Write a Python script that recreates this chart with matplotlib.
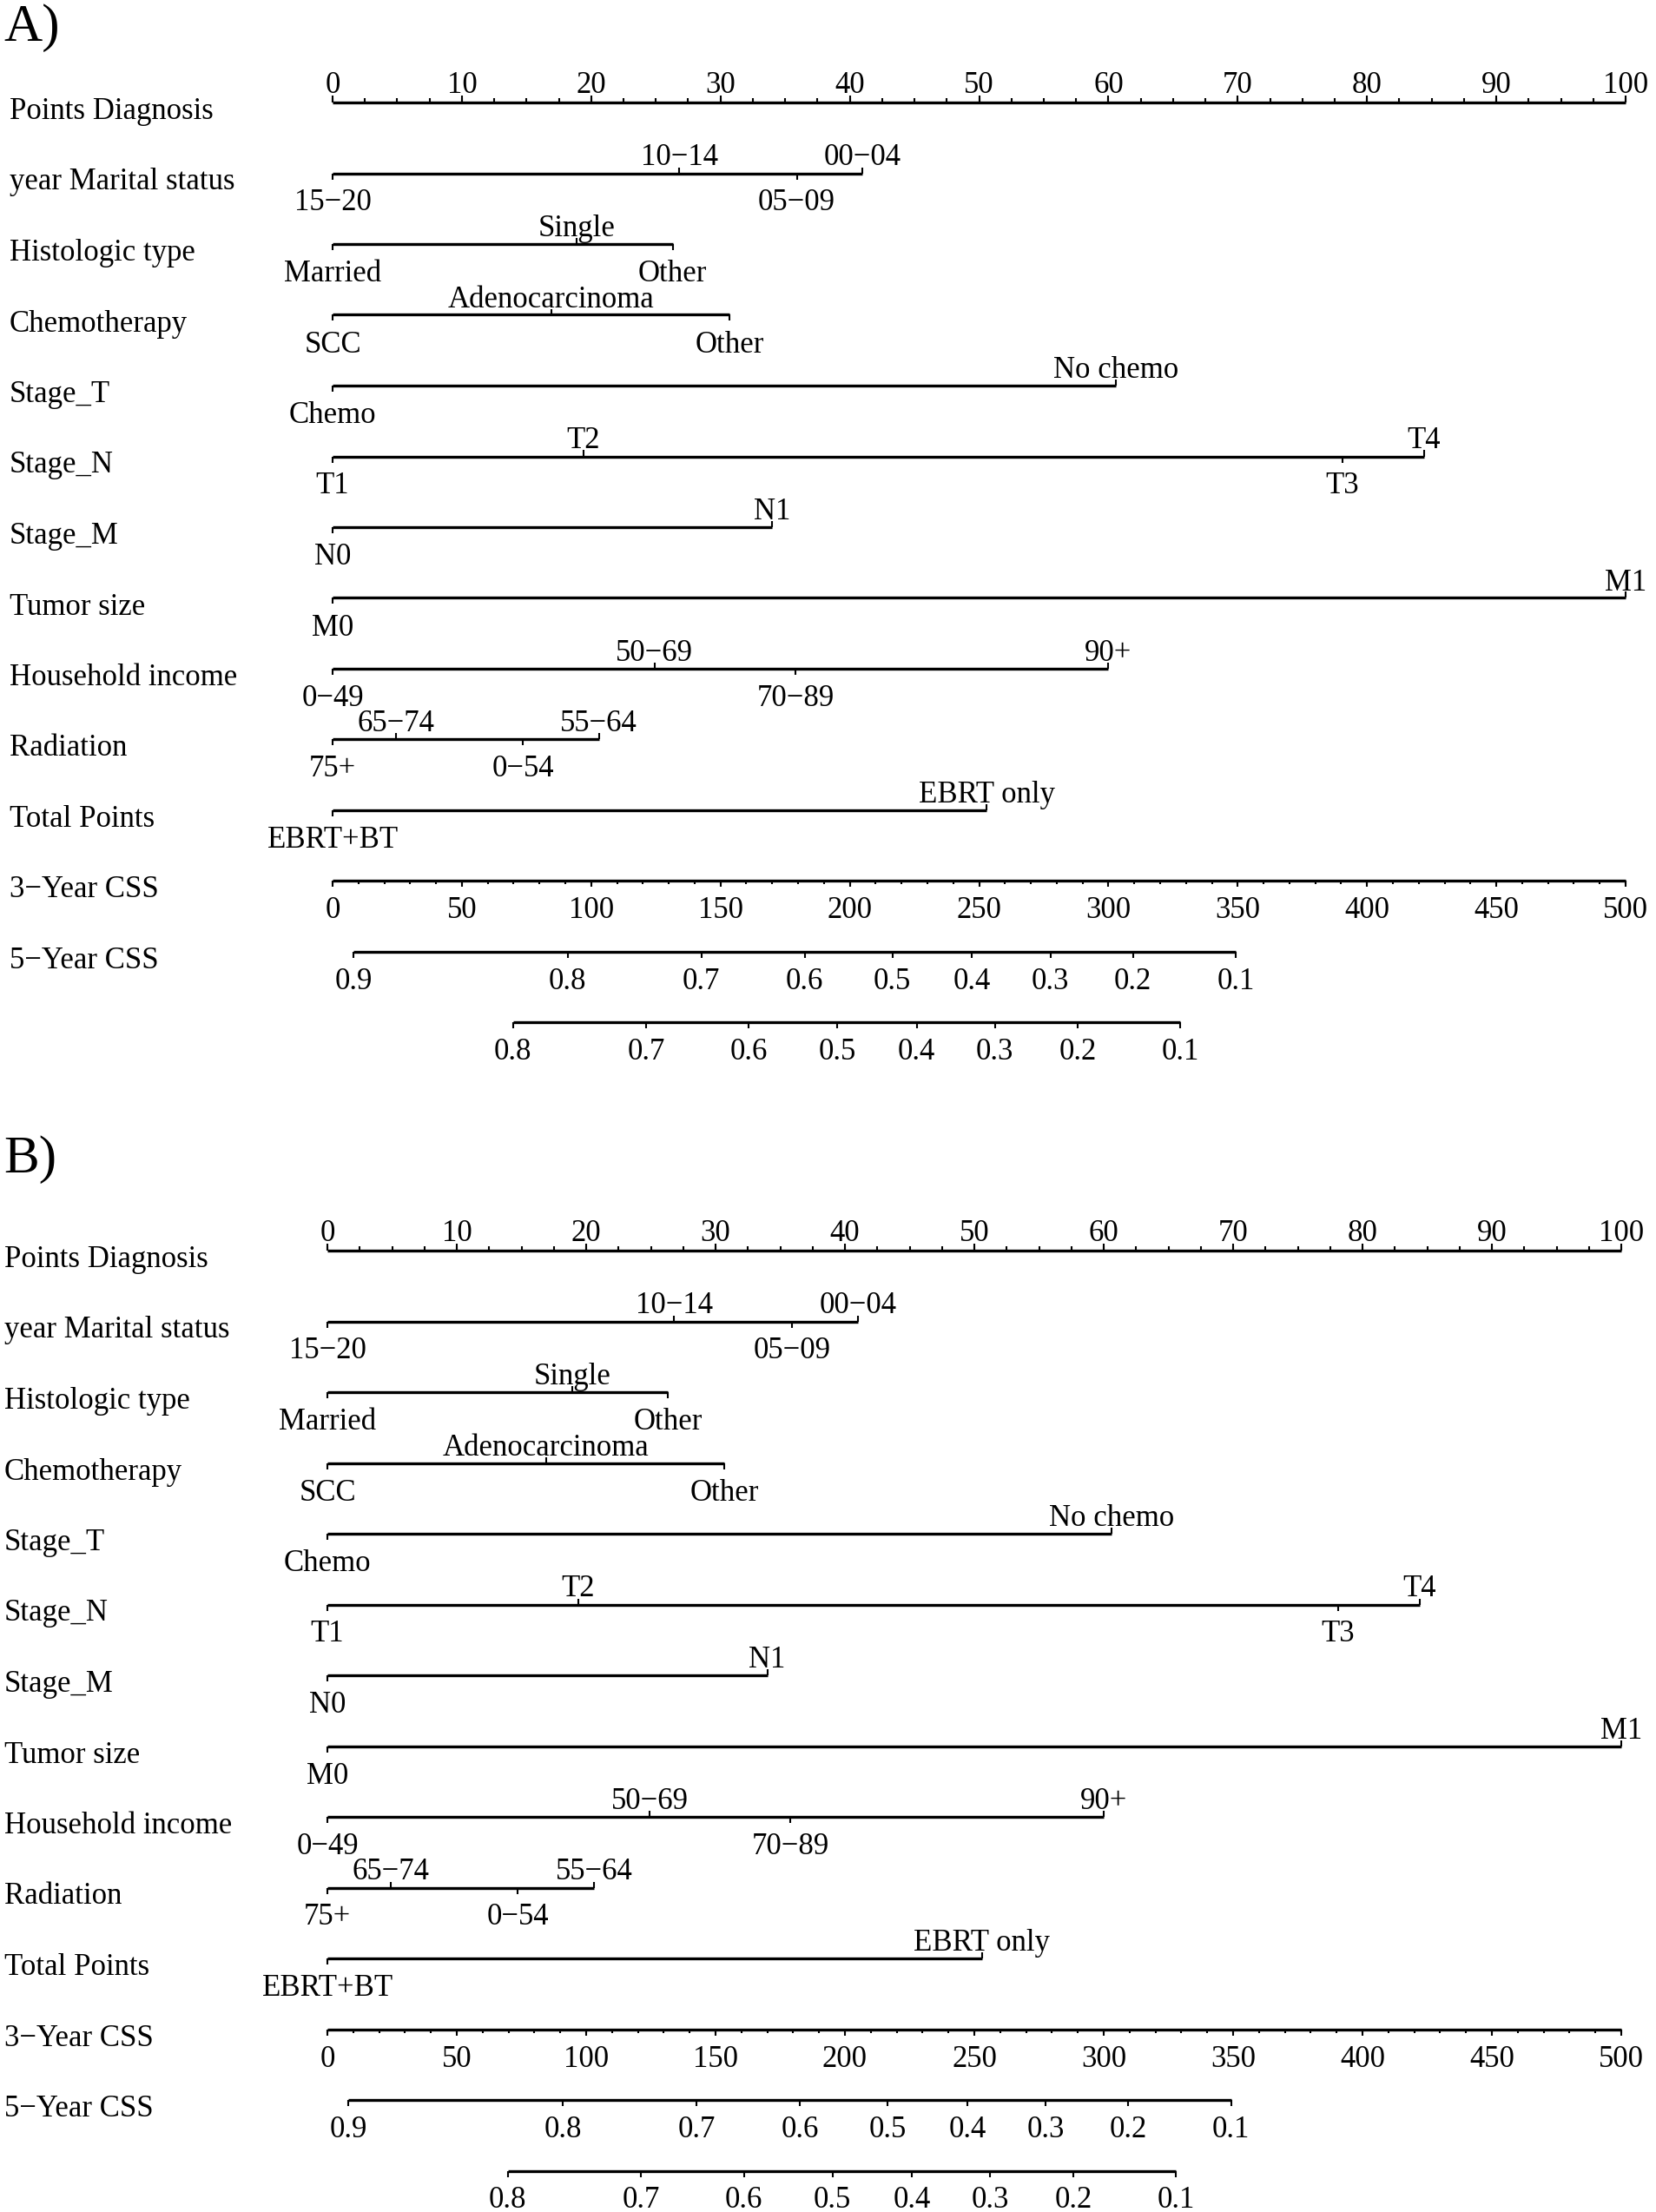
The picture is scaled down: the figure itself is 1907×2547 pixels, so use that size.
import numpy as np
import matplotlib
matplotlib.use("Agg")
from matplotlib import pyplot as plt

plt.rcParams['font.family'] = ['Liberation Serif', 'DejaVu Serif']

# --- data -------------------------------------------------------------
row_labels = ["Points Diagnosis", "year Marital status", "Histologic type",
              "Chemotherapy", "Stage_T", "Stage_N", "Stage_M", "Tumor size",
              "Household income", "Radiation", "Total Points",
              "3\u2212Year CSS", "5\u2212Year CSS"]

year_levels = ["15\u221220", "10\u221214", "05\u221209", "00\u221204"]
year_pts = [0, 26.8, 35.9, 41.0]
marital_levels = ["Married", "Single", "Other"]
marital_pts = [0, 18.9, 26.3]
histo_levels = ["SCC", "Adenocarcinoma", "Other"]
histo_pts = [0, 16.9, 30.7]
chemo_levels = ["Chemo", "No chemo"]
chemo_pts = [0, 60.6]
stage_t_levels = ["T1", "T2", "T3", "T4"]
stage_t_pts = [0, 19.4, 78.1, 84.4]
stage_n_levels = ["N0", "N1"]
stage_n_pts = [0, 34.0]
stage_m_levels = ["M0", "M1"]
stage_m_pts = [0, 100]
income_levels = ["0\u221249", "50\u221269", "70\u221289", "90+"]
income_pts = [0, 24.9, 35.8, 60.0]
age_levels = ["75+", "65\u221274", "0\u221254", "55\u221264"]
age_pts = [0, 4.9, 14.7, 20.6]
radiation_levels = ["EBRT+BT", "EBRT only"]
radiation_pts = [0, 50.6]

points_ticks = np.arange(0, 101, 10)
total_ticks = np.arange(0, 501, 50)

css3_labels = ["0.9", "0.8", "0.7", "0.6", "0.5", "0.4", "0.3", "0.2", "0.1"]
css3_total = [8.1, 90.9, 142.6, 182.6, 216.5, 247.3, 277.6, 309.5, 349.2]
css5_labels = ["0.8", "0.7", "0.6", "0.5", "0.4", "0.3", "0.2", "0.1"]
css5_total = [69.7, 121.2, 161.0, 195.2, 225.9, 256.1, 288.2, 327.8]

categories = [
    (year_levels, year_pts),
    (marital_levels, marital_pts),
    (histo_levels, histo_pts),
    (chemo_levels, chemo_pts),
    (stage_t_levels, stage_t_pts),
    (stage_n_levels, stage_n_pts),
    (stage_m_levels, stage_m_pts),
    (income_levels, income_pts),
    (age_levels, age_pts),
    (radiation_levels, radiation_pts),
]

# --- figure -----------------------------------------------------------
W, H, DPI = 1907, 2547, 100
FS = 25
LW = 2.4
TLW = 1.5
fig = plt.figure(figsize=(W / DPI, H / DPI), dpi=DPI, facecolor='white')


def draw_panel(letter, x0, x100, ytop, dy, label_x, letter_y):
    ax = fig.add_axes([0, 0, 1, 1])
    ax.patch.set_alpha(0)
    s = (x100 - x0) / 100.0
    ax.set_xlim(-x0 / s, (W - x0) / s)
    ax.set_ylim((H - ytop) / dy, -ytop / dy)
    ax.axis('off')

    def r(px):  # pixel offset -> row units
        return px / dy

    def c(px):  # pixel x -> points units
        return (px - x0) / s

    ax.text(c(4), r(letter_y - ytop), letter, fontsize=44, ha='left', va='baseline')

    for i, lab in enumerate(row_labels):
        ax.text(c(label_x), i + r(19), lab, fontsize=FS, ha='left', va='baseline')

    # points axis
    ax.hlines(0, 0, 100, color='black', lw=LW)
    minor = np.arange(0, 100.1, 2.5)
    ax.vlines(minor, 0, -r(5), color='black', lw=TLW)
    ax.vlines(points_ticks, 0, -r(8), color='black', lw=TLW)
    for t in points_ticks:
        ax.text(t, -r(11), str(t), fontsize=FS, ha='center', va='baseline')

    # categorical rows
    for j, (levels, pts) in enumerate(categories):
        row = j + 1
        ax.hlines(row, min(pts), max(pts), color='black', lw=LW)
        for k, (lev, p) in enumerate(zip(levels, pts)):
            if k % 2 == 0:
                ax.vlines(p, row, row + r(7), color='black', lw=TLW)
                ax.text(p, row + r(43), lev, fontsize=FS, ha='center', va='baseline')
            else:
                ax.vlines(p, row, row - r(7), color='black', lw=TLW)
                ax.text(p, row - r(9), lev, fontsize=FS, ha='center', va='baseline')

    # total points axis
    row = 11
    ax.hlines(row, 0, 100, color='black', lw=LW)
    ax.vlines(np.arange(0, 501, 10) / 5.0, row, row + r(4), color='black', lw=TLW)
    ax.vlines(total_ticks / 5.0, row, row + r(7), color='black', lw=TLW)
    for t in total_ticks:
        ax.text(t / 5.0, row + r(43), str(t), fontsize=FS, ha='center', va='baseline')

    # survival axes
    for row, labs, tot in [(12, css3_labels, css3_total), (13, css5_labels, css5_total)]:
        xs = np.array(tot) / 5.0
        ax.hlines(row, xs.min(), xs.max(), color='black', lw=LW)
        ax.vlines(xs, row, row + r(7), color='black', lw=TLW)
        for lab, x in zip(labs, xs):
            ax.text(x, row + r(43), lab, fontsize=FS, ha='center', va='baseline')


draw_panel("A)", 383, 1872, 118, 81.5, 11, 47)
draw_panel("B)", 377, 1867, 1440, 81.5, 5, 1350)

fig.savefig("out.png", dpi=DPI, facecolor='white')
